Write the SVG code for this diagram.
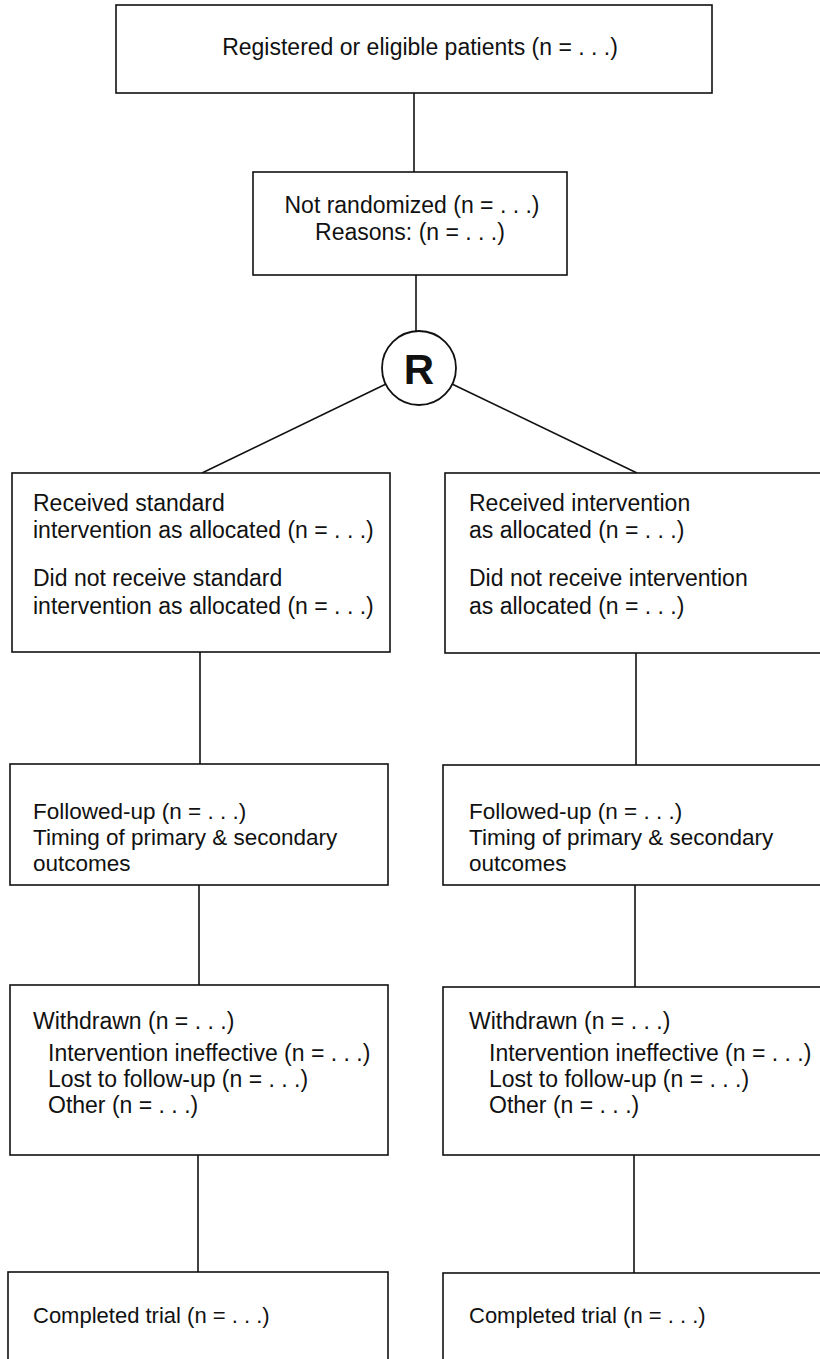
<svg xmlns="http://www.w3.org/2000/svg" width="820" height="1359" viewBox="0 0 820 1359">
<style>
.box{fill:#fff;stroke:#111;stroke-width:1.6}
.ln{stroke:#111;stroke-width:1.6;fill:none}
text{font-family:"Liberation Sans",Arial,sans-serif;font-size:22px;fill:#111}
.big{font-size:23px}
.mid{font-size:22.5px}
.c{text-anchor:middle}
</style>
<rect width="820" height="1359" fill="#fff"/>
<g id="connectors">
<line class="ln" x1="414" y1="93" x2="414" y2="172"/>
<line class="ln" x1="416" y1="275" x2="416" y2="331"/>
<line class="ln" x1="386" y1="384" x2="202" y2="473"/>
<line class="ln" x1="452" y1="384" x2="637" y2="473"/>
<line class="ln" x1="200" y1="652" x2="200" y2="764"/>
<line class="ln" x1="636" y1="653" x2="636" y2="765"/>
<line class="ln" x1="199" y1="885" x2="199" y2="985"/>
<line class="ln" x1="635" y1="885" x2="635" y2="987"/>
<line class="ln" x1="198" y1="1155" x2="198" y2="1272"/>
<line class="ln" x1="634" y1="1155" x2="634" y2="1273"/>
</g>
<g id="registered">
<rect class="box" x="116" y="5" width="596" height="88"/>
<text class="c big" x="420" y="55">Registered or eligible patients (n = . . .)</text>
</g>
<g id="not-randomized">
<rect class="box" x="253" y="172" width="314" height="103"/>
<text class="c big" x="412" y="213">Not randomized (n = . . .)</text>
<text class="c big" x="410" y="240">Reasons: (n = . . .)</text>
</g>
<g id="randomization">
<circle cx="419" cy="368" r="37" fill="#fff" stroke="#111" stroke-width="1.8"/>
<text class="c" x="419" y="384" style="font-size:42px;font-weight:bold">R</text>
</g>
<g id="left-allocation">
<rect class="box" x="12" y="473" width="378" height="179"/>
<text class="big" x="33" y="511">Received standard</text>
<text class="big" x="33" y="538">intervention as allocated (n = . . .)</text>
<text class="big" x="33" y="586">Did not receive standard</text>
<text class="big" x="33" y="614">intervention as allocated (n = . . .)</text>
</g>
<g id="right-allocation">
<rect class="box" x="445" y="473" width="378" height="180"/>
<text class="big" x="469" y="511">Received intervention</text>
<text class="big" x="469" y="538">as allocated (n = . . .)</text>
<text class="big" x="469" y="586">Did not receive intervention</text>
<text class="big" x="469" y="614">as allocated (n = . . .)</text>
</g>
<g id="left-followup">
<rect class="box" x="10" y="764" width="378" height="121"/>
<text class="mid" x="33" y="819">Followed-up (n = . . .)</text>
<text class="mid" x="33" y="845">Timing of primary &amp; secondary</text>
<text class="mid" x="33" y="871">outcomes</text>
</g>
<g id="right-followup">
<rect class="box" x="443" y="765" width="380" height="120"/>
<text class="mid" x="469" y="819">Followed-up (n = . . .)</text>
<text class="mid" x="469" y="845">Timing of primary &amp; secondary</text>
<text class="mid" x="469" y="871">outcomes</text>
</g>
<g id="left-withdrawn">
<rect class="box" x="10" y="985" width="378" height="170"/>
<text class="big" x="33" y="1029">Withdrawn (n = . . .)</text>
<text class="big" x="48" y="1061">Intervention ineffective (n = . . .)</text>
<text class="big" x="48" y="1087">Lost to follow-up (n = . . .)</text>
<text class="big" x="48" y="1113">Other (n = . . .)</text>
</g>
<g id="right-withdrawn">
<rect class="box" x="443" y="987" width="380" height="168"/>
<text class="big" x="469" y="1029">Withdrawn (n = . . .)</text>
<text class="big" x="489" y="1061">Intervention ineffective (n = . . .)</text>
<text class="big" x="489" y="1087">Lost to follow-up (n = . . .)</text>
<text class="big" x="489" y="1113">Other (n = . . .)</text>
</g>
<g id="left-completed">
<rect class="box" x="8" y="1272" width="380" height="100"/>
<text x="33" y="1323">Completed trial (n = . . .)</text>
</g>
<g id="right-completed">
<rect class="box" x="443" y="1273" width="380" height="100"/>
<text x="469" y="1323">Completed trial (n = . . .)</text>
</g>
</svg>
